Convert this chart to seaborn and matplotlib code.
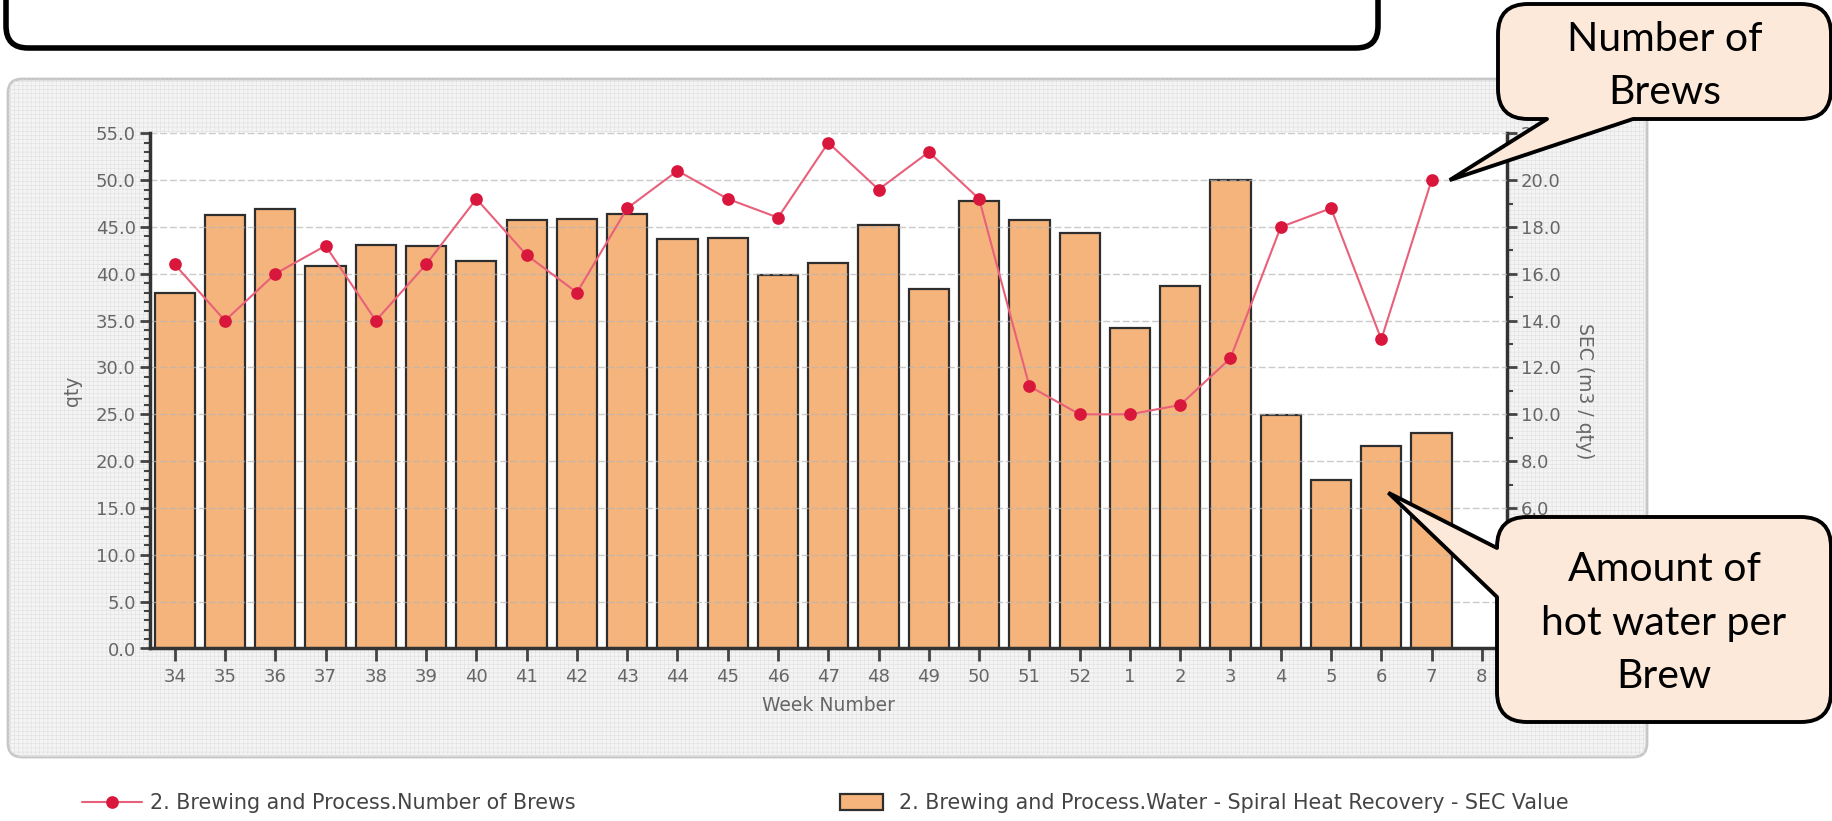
import numpy as np
import pandas as pd
import seaborn as sns
import matplotlib
matplotlib.use("Agg")
import matplotlib.pyplot as plt
from matplotlib.patches import FancyBboxPatch, Polygon
from matplotlib.lines import Line2D
from matplotlib.ticker import MultipleLocator, FormatStrFormatter

# ---------------- data ----------------
weeks = ["34", "35", "36", "37", "38", "39", "40", "41", "42", "43", "44", "45", "46",
         "47", "48", "49", "50", "51", "52", "1", "2", "3", "4", "5", "6", "7", "8"]
data_weeks = weeks[:-1]  # week 8 has no value yet
brews = [41, 35, 40, 43, 35, 41, 48, 42, 38, 47, 51, 48, 46,
         54, 49, 53, 48, 28, 25, 25, 26, 31, 45, 47, 33, 50]
sec = [15.2, 18.5, 18.75, 16.35, 17.25, 17.2, 16.55, 18.3, 18.35, 18.55, 17.5, 17.55, 15.95,
       16.45, 18.1, 15.35, 19.1, 18.3, 17.75, 13.7, 15.5, 20.0, 9.95, 7.2, 8.65, 9.2]

line_label = "2. Brewing and Process.Number of Brews"
bar_label = "2. Brewing and Process.Water - Spiral Heat Recovery - SEC Value"

df = pd.DataFrame({"week": data_weeks, "brews": brews, "sec": sec})

sns.set_style("white")
plt.rcParams["font.family"] = ["DejaVu Sans"]

W, H = 1833, 821
fig = plt.figure(figsize=(W / 100, H / 100), dpi=100)
fig.patch.set_facecolor("white")

# background layer in pixel coords
bg = fig.add_axes([0, 0, 1, 1], zorder=0)
bg.set_xlim(0, W)
bg.set_ylim(H, 0)
bg.axis("off")

# black rounded box cut off at the top
bg.add_patch(FancyBboxPatch((6, -80), 1372, 128, boxstyle="round,pad=0,rounding_size=22",
                            fc="white", ec="black", lw=4))
# grey chart panel
bg.add_patch(FancyBboxPatch((8, 79), 1639, 678, boxstyle="round,pad=0,rounding_size=14",
                            fc="#f4f4f4", ec="#c6c6c6", lw=2))
plt.rcParams["hatch.linewidth"] = 0.4
bg.add_patch(FancyBboxPatch((8, 79), 1639, 678, boxstyle="round,pad=0,rounding_size=14",
                            fill=False, ec="#e0e0e0", lw=0, hatch="++++"))

# ---------------- chart ----------------
rect = [149.6 / W, 1 - 648.5 / H, (1507 - 149.6) / W, (648.5 - 133.3) / H]
axb = fig.add_axes(rect, zorder=1)
axl = axb.twinx()
axl.set_zorder(2)
axl.patch.set_visible(False)
axl.xaxis.set_visible(True)
axb.set_facecolor("white")

bar_color = "#f5b47c"
sns.barplot(data=df, x="week", y="sec", order=weeks, color=bar_color, saturation=1,
            edgecolor="#2e2e2e", linewidth=1.6, width=0.8, errorbar=None, ax=axb)
sns.pointplot(data=df, x="week", y="brews", order=weeks, color="#e8607a", markers="o",
              markersize=8, linewidth=1.5, errorbar=None, ax=axl)
ln = axl.lines[0]
ln.set_markerfacecolor("#d9163c")
ln.set_markeredgecolor("#d9163c")

# swap sides: bars on the right axis, brews on the left axis
axb.yaxis.tick_right()
axb.yaxis.set_label_position("right")
axl.yaxis.tick_left()
axl.yaxis.set_label_position("left")

for a in (axb, axl):
    a.set_xlim(-0.5, len(weeks) - 0.5)
axl.set_ylim(0, 55)
axb.set_ylim(0, 22)

axl.yaxis.set_major_locator(MultipleLocator(5))
axl.yaxis.set_minor_locator(MultipleLocator(1))
axl.yaxis.set_major_formatter(FormatStrFormatter("%.1f"))
axb.yaxis.set_major_locator(MultipleLocator(2))
axb.yaxis.set_minor_locator(MultipleLocator(1))
axb.yaxis.set_major_formatter(FormatStrFormatter("%.1f"))

tick_col = "#444444"
lab_col = "#666666"
for a in (axb, axl):
    a.tick_params(axis="y", which="major", direction="out", length=7, width=2,
                  color=tick_col, labelcolor=lab_col, labelsize=13, pad=3)
    a.tick_params(axis="y", which="minor", direction="out", length=4, width=1.5, color=tick_col)
axl.set_xticks(range(len(weeks)))
axl.set_xticklabels(weeks)
axl.tick_params(axis="x", which="major", direction="out", length=9, width=2, color=tick_col,
                labelcolor=lab_col, labelsize=13, pad=5, bottom=True, labelbottom=True)
axb.tick_params(axis="x", bottom=False, labelbottom=False)

for s in axb.spines.values():
    s.set_visible(False)
for s in axl.spines.values():
    s.set_visible(False)
axb.spines["right"].set_visible(True)
axb.spines["right"].set_color("#333333")
axb.spines["right"].set_linewidth(2.5)
axl.spines["left"].set_visible(True)
axl.spines["bottom"].set_visible(True)
for k in ("left", "bottom"):
    axl.spines[k].set_color("#333333")
    axl.spines[k].set_linewidth(2.5)

axl.set_axisbelow(True)
axl.yaxis.grid(True, color="#b5b5b5", lw=1, ls=(0, (5, 2)), alpha=0.7)
axl.xaxis.grid(False)
axb.grid(False)

axl.set_xlabel("Week Number", color=lab_col, fontsize=13.5, labelpad=7)
axl.set_ylabel("qty", color=lab_col, fontsize=13.5, labelpad=10)
axb.set_xlabel("")
axb.set_ylabel("SEC (m3 / qty)", color=lab_col, fontsize=13.5, rotation=270,
               va="bottom", labelpad=10)

# ---------------- legends ----------------
fig.legend(handles=[ln], labels=[line_label], loc="center left",
           bbox_to_anchor=(82 / W, 1 - 803 / H), frameon=False, fontsize=14.9,
           labelcolor="#444444", borderpad=0, borderaxespad=0,
           handlelength=2.9, handletextpad=0.4, numpoints=1)
fig.legend(handles=[axb.patches[0]], labels=[bar_label], loc="center left",
           bbox_to_anchor=(840 / W, 1 - 803 / H), frameon=False, fontsize=14.9,
           labelcolor="#444444", borderpad=0, borderaxespad=0,
           handlelength=2.1, handleheight=0.85, handletextpad=0.75)

# ---------------- callouts ----------------
ov = fig.add_axes([0, 0, 1, 1], zorder=5)
ov.set_xlim(0, W)
ov.set_ylim(H, 0)
ov.axis("off")
ov.patch.set_visible(False)


def to_px(a, x, y):
    dx, dy = a.transData.transform((x, y))
    return dx, H - dy


peach = "#fde9d9"
cfont = ["Lato", "DejaVu Sans"]


def callout(x0, y0, w, h, b1, b2, inner, tip, text, cy):
    ov.add_patch(FancyBboxPatch((x0, y0), w, h, boxstyle="round,pad=0,rounding_size=30",
                                fc=peach, ec="black", lw=2.8, zorder=1))
    ov.add_patch(Polygon([b1, tip, b2, (b2[0] + inner[0], b2[1] + inner[1]),
                          (b1[0] + inner[0], b1[1] + inner[1])],
                         closed=True, fc=peach, ec="none", zorder=2))
    ov.add_line(Line2D([b1[0], tip[0], b2[0]], [b1[1], tip[1], b2[1]], color="black",
                       lw=2.8, zorder=3, solid_joinstyle="miter"))
    ov.text(x0 + w / 2, cy, text, ha="center", va="center", fontsize=29.5,
            family=cfont, color="black", linespacing=1.55, zorder=4)


tip1 = to_px(axl, 25 + 0.36, brews[25])
callout(1498, 4, 333, 115, (1547, 119), (1633, 119), (0, -9), tip1,
        "Number of\nBrews", 66)

tip2 = to_px(axb, 24 + 0.14, sec[24] - 2.0)
callout(1497, 517, 334, 205, (1497, 548), (1497, 597), (9, 0), tip2,
        "Amount of\nhot water per\nBrew", 623)

fig.savefig("out.png", dpi=100)
